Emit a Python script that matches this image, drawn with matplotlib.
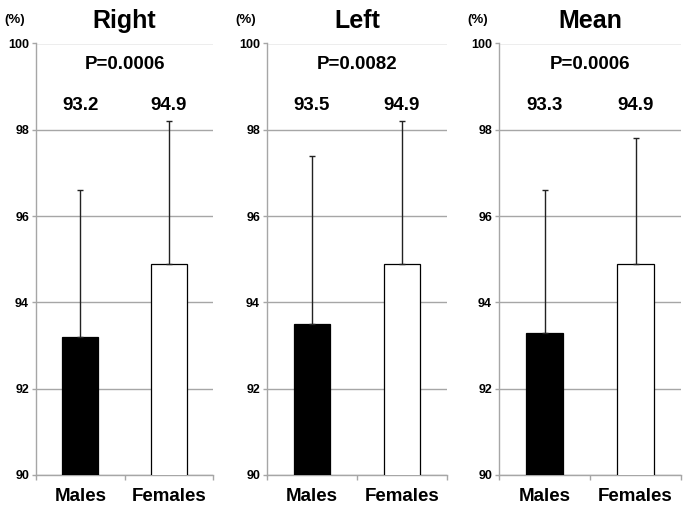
import matplotlib
matplotlib.use("Agg")
import matplotlib.pyplot as plt
from matplotlib.ticker import FixedLocator

plt.rcParams['font.family'] = ['Liberation Sans', 'DejaVu Sans']

titles = ["Right", "Left", "Mean"]
categories = ["Males", "Females"]
means = {
    "Right": [93.2, 94.9],
    "Left": [93.5, 94.9],
    "Mean": [93.3, 94.9],
}
upper_err = {
    "Right": [3.4, 3.3],
    "Left": [3.9, 3.3],
    "Mean": [3.3, 2.9],
}
p_values = {"Right": "P=0.0006", "Left": "P=0.0082", "Mean": "P=0.0006"}
yticks = [90, 92, 94, 96, 98, 100]

W, H = 683, 507
fig = plt.figure(figsize=(W / 100, H / 100), dpi=100)

panels_px = [(36, 177), (267, 180), (499, 182)]
bottom_px, top_px = 475, 43.5
gray = "#a6a6a6"

for (lx, wd), t in zip(panels_px, titles):
    ax = fig.add_axes([lx / W, 1 - bottom_px / H, wd / W, (bottom_px - top_px) / H])
    x = [0, 1]
    vals = means[t]
    errs = upper_err[t]
    ax.bar(x, vals, width=0.41, bottom=0, color=["black", "white"],
           edgecolor="black", linewidth=0.9, zorder=3)
    ax.errorbar(x, vals, yerr=[[0, 0], errs], fmt="none", ecolor="#222222",
                elinewidth=1.0, capsize=2.5, capthick=1.0, zorder=4)
    ax.set_ylim(90, 100)
    ax.set_xlim(-0.5, 1.5)
    ax.set_yticks(yticks)
    ax.set_yticklabels([str(v) for v in yticks], fontsize=9, fontweight="bold")
    ax.yaxis.grid(True, color=gray, linewidth=1.0, zorder=0)
    ax.set_axisbelow(True)
    ax.set_xticks(x)
    ax.set_xticklabels(categories, fontsize=13.5, fontweight="bold")
    ax.tick_params(axis="x", which="major", length=0, pad=9.5)
    ax.xaxis.set_minor_locator(FixedLocator([-0.5, 0.5, 1.5]))
    ax.tick_params(axis="x", which="minor", length=3.5, color=gray, width=1.0)
    ax.tick_params(axis="y", length=3, color=gray, width=1.0, pad=2)
    for s in ["top", "right"]:
        ax.spines[s].set_visible(False)
    for s in ["left", "bottom"]:
        ax.spines[s].set_color(gray)
        ax.spines[s].set_linewidth(1.0)
    ax.set_title(t, fontsize=18, fontweight="bold", pad=11)
    ax.text(-21 / wd, 1 + 23 / (bottom_px - top_px), "(%)", transform=ax.transAxes,
            ha="center", va="center", fontsize=9.5, fontweight="bold")
    ax.text(0.5, 99.4, p_values[t], ha="center", va="baseline",
            fontsize=13.5, fontweight="bold")
    for xi, v in zip(x, vals):
        ax.text(xi, 98.45, f"{v:.1f}", ha="center", va="baseline",
                fontsize=13.5, fontweight="bold")

fig.savefig("out.png", dpi=100)
